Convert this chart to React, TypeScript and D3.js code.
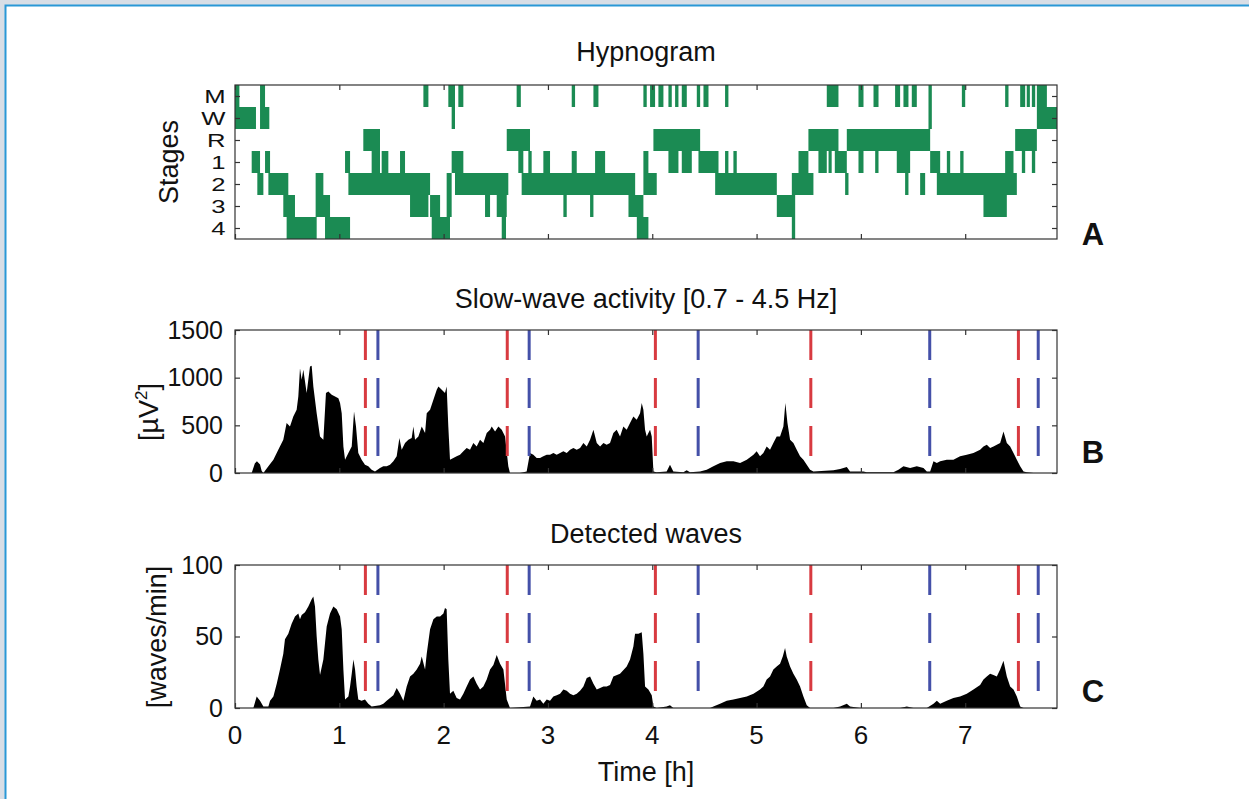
import React, { useEffect, useRef } from 'react'
import * as d3 from 'd3'

const stages = ['M', 'W', 'R', '1', '2', '3', '4']
const hourTicks = [0, 1, 2, 3, 4, 5, 6, 7]
const swaTicks = [0, 500, 1000, 1500]
const waveTicks = [0, 50, 100]
const redMarks = [1.25, 2.61, 4.03, 5.52, 7.51]
const blueMarks = [1.37, 2.82, 4.44, 6.66, 7.7]

// [stage, start h, end h]
const hypnogram: [string, number, number][] = [
  ['W', 0, 0.201], ['M', 0, 0.042], ['W', 0.24, 0.329], ['M', 0.24, 0.288],
  ['1', 0.16, 0.24], ['1', 0.288, 0.336], ['2', 0.214, 0.272], ['2', 0.32, 0.511],
  ['3', 0.463, 0.575], ['4', 0.495, 0.783], ['2', 0.773, 0.847], ['3', 0.773, 0.911],
  ['4', 0.863, 1.103], ['1', 1.055, 1.103], ['2', 1.087, 1.87], ['R', 1.23, 1.39],
  ['1', 1.31, 1.39], ['1', 1.406, 1.47], ['1', 1.582, 1.63], ['3', 1.678, 1.854],
  ['M', 1.806, 1.854], ['3', 1.87, 1.966], ['4', 1.886, 2.061], ['3', 2.029, 2.077],
  ['2', 2.029, 2.077], ['M', 2.045, 2.109], ['W', 2.077, 2.109], ['M', 2.141, 2.189],
  ['1', 2.077, 2.189], ['2', 2.109, 2.62], ['3', 2.397, 2.445], ['3', 2.509, 2.605],
  ['4', 2.557, 2.598], ['R', 2.605, 2.828], ['M', 2.7, 2.74], ['1', 2.716, 2.764],
  ['2', 2.748, 3.836], ['1', 2.812, 2.844], ['1', 2.956, 3.02], ['3', 3.148, 3.18],
  ['M', 3.228, 3.26], ['1', 3.228, 3.276], ['3', 3.404, 3.436], ['M', 3.436, 3.484],
  ['1', 3.452, 3.548], ['3', 3.772, 3.915], ['4', 3.852, 3.963], ['1', 3.915, 3.963],
  ['2', 3.915, 4.043], ['M', 3.915, 3.947], ['M', 3.979, 4.027], ['M', 4.059, 4.107],
  ['M', 4.155, 4.187], ['M', 4.219, 4.251], ['M', 4.283, 4.331], ['M', 4.427, 4.459],
  ['M', 4.491, 4.539], ['M', 4.698, 4.73], ['R', 4.011, 4.459], ['1', 4.155, 4.251],
  ['1', 4.283, 4.379], ['1', 4.443, 4.635], ['1', 4.698, 4.73], ['1', 4.778, 4.81],
  ['2', 4.603, 5.194], ['3', 5.194, 5.37], ['4', 5.338, 5.37], ['2', 5.338, 5.545],
  ['1', 5.402, 5.497], ['R', 5.497, 5.785], ['1', 5.593, 5.673], ['1', 5.69, 5.72],
  ['1', 5.75, 5.865], ['M', 5.673, 5.785], ['2', 5.849, 5.881], ['R', 5.865, 6.664],
  ['M', 5.977, 6.025], ['M', 6.121, 6.169], ['M', 6.328, 6.376], ['M', 6.408, 6.456],
  ['M', 6.488, 6.536], ['1', 5.977, 6.025], ['1', 6.137, 6.169], ['1', 6.344, 6.472],
  ['2', 6.424, 6.456], ['2', 6.568, 6.616], ['M', 6.648, 6.68], ['W', 6.648, 6.68],
  ['1', 6.664, 6.76], ['2', 6.728, 7.495], ['1', 6.824, 6.856], ['1', 6.952, 6.984],
  ['M', 6.968, 7.0], ['3', 7.175, 7.399], ['M', 7.383, 7.415], ['1', 7.383, 7.463],
  ['R', 7.479, 7.687], ['M', 7.527, 7.575], ['M', 7.59, 7.62], ['M', 7.639, 7.671],
  ['1', 7.543, 7.575], ['1', 7.639, 7.671], ['W', 7.687, 7.88], ['M', 7.687, 7.783]
]

// slow-wave activity [h, µV²]
const swa: [number, number][] = [
  [0, 0], [0.16, 0], [0.19, 100], [0.21, 122], [0.24, 90], [0.256, 20], [0.272, 0], [0.32, 70],
  [0.368, 140], [0.415, 244], [0.463, 349], [0.495, 524], [0.527, 489], [0.559, 593], [0.591, 663],
  [0.607, 803], [0.623, 1099], [0.639, 977], [0.655, 1082], [0.687, 838], [0.719, 1117], [0.735, 1124],
  [0.751, 907], [0.783, 628], [0.815, 384], [0.847, 349], [0.872, 838], [0.895, 855], [0.927, 820],
  [0.959, 803], [0.991, 785], [1.007, 733], [1.023, 628], [1.039, 279], [1.055, 140], [1.087, 209],
  [1.119, 279], [1.141, 646], [1.16, 489], [1.182, 209], [1.214, 140], [1.246, 87], [1.278, 70],
  [1.31, 35], [1.342, 17], [1.39, 52], [1.422, 70], [1.454, 70], [1.486, 87], [1.518, 122],
  [1.55, 175], [1.576, 366], [1.598, 244], [1.63, 314], [1.662, 349], [1.694, 366], [1.71, 489],
  [1.726, 349], [1.758, 384], [1.79, 489], [1.822, 419], [1.838, 628], [1.87, 663], [1.902, 768],
  [1.934, 873], [1.95, 907], [1.982, 873], [2.013, 838], [2.029, 907], [2.045, 489], [2.061, 140],
  [2.093, 157], [2.125, 175], [2.157, 192], [2.189, 227], [2.221, 262], [2.253, 244], [2.285, 314],
  [2.317, 279], [2.349, 349], [2.381, 314], [2.413, 419], [2.445, 454], [2.461, 489], [2.493, 436],
  [2.525, 489], [2.557, 454], [2.589, 384], [2.62, 70], [2.636, 0], [2.732, 0], [2.796, 17],
  [2.828, 209], [2.86, 192], [2.892, 157], [2.924, 157], [2.956, 175], [2.988, 192], [3.02, 192],
  [3.052, 209], [3.084, 192], [3.116, 209], [3.148, 227], [3.18, 209], [3.212, 244], [3.244, 262],
  [3.276, 244], [3.308, 262], [3.34, 314], [3.372, 279], [3.404, 349], [3.436, 454], [3.468, 314],
  [3.5, 279], [3.532, 314], [3.563, 297], [3.595, 314], [3.627, 419], [3.659, 454], [3.691, 384],
  [3.723, 489], [3.755, 454], [3.787, 524], [3.819, 593], [3.851, 558], [3.883, 628], [3.899, 733],
  [3.915, 663], [3.931, 454], [3.947, 384], [3.963, 419], [3.979, 454], [3.995, 384], [4.011, 17],
  [4.042, 7], [4.138, 17], [4.17, 87], [4.202, 17], [4.298, 7], [4.33, 28], [4.362, 7], [4.458, 17],
  [4.522, 35], [4.586, 70], [4.65, 105], [4.714, 122], [4.778, 122], [4.842, 105], [4.906, 140],
  [4.97, 192], [5.001, 227], [5.033, 175], [5.065, 209], [5.097, 279], [5.129, 244], [5.161, 314],
  [5.193, 384], [5.225, 384], [5.257, 489], [5.276, 733], [5.296, 524], [5.321, 349], [5.353, 314],
  [5.385, 244], [5.417, 175], [5.449, 140], [5.481, 87], [5.513, 35], [5.545, 17], [5.737, 28],
  [5.801, 42], [5.865, 63], [5.896, 17], [6.024, 17], [6.056, 7], [6.312, 7], [6.36, 35], [6.408, 70],
  [6.472, 52], [6.536, 70], [6.6, 52], [6.632, 17], [6.664, 17], [6.696, 122], [6.728, 105],
  [6.76, 122], [6.823, 140], [6.887, 140], [6.951, 175], [7.015, 192], [7.079, 209], [7.143, 244],
  [7.175, 279], [7.207, 297], [7.239, 262], [7.271, 279], [7.303, 297], [7.335, 314], [7.367, 436],
  [7.399, 314], [7.431, 279], [7.463, 209], [7.495, 140], [7.527, 70], [7.559, 17], [7.591, 7],
  [7.655, 0], [7.88, 0]
]

// detected waves [h, waves/min]
const waves: [number, number][] = [
  [0, 0], [0.176, 0], [0.208, 8], [0.24, 5], [0.272, 1], [0.32, 1], [0.336, 5], [0.368, 8], [0.4, 17],
  [0.431, 27], [0.463, 38], [0.479, 48], [0.511, 52], [0.543, 59], [0.575, 64], [0.607, 66], [0.623, 62],
  [0.639, 65], [0.671, 67], [0.703, 71], [0.735, 76], [0.751, 78], [0.767, 71], [0.783, 50], [0.799, 34],
  [0.815, 23], [0.847, 34], [0.879, 57], [0.911, 66], [0.943, 71], [0.975, 69], [1.007, 64], [1.023, 55],
  [1.039, 27], [1.055, 6], [1.087, 8], [1.103, 15], [1.119, 24], [1.135, 34], [1.151, 27], [1.166, 15],
  [1.182, 6], [1.214, 5], [1.246, 6], [1.278, 3], [1.31, 1], [1.39, 2], [1.422, 3], [1.454, 5],
  [1.486, 7], [1.518, 9], [1.55, 14], [1.582, 10], [1.614, 5], [1.646, 15], [1.678, 22], [1.71, 24],
  [1.742, 27], [1.774, 31], [1.79, 36], [1.822, 27], [1.838, 38], [1.87, 55], [1.902, 62], [1.934, 64],
  [1.966, 64], [1.998, 66], [2.013, 70], [2.029, 69], [2.045, 34], [2.061, 10], [2.093, 12], [2.125, 7],
  [2.157, 6], [2.189, 10], [2.221, 15], [2.253, 20], [2.285, 22], [2.317, 17], [2.349, 13], [2.381, 15],
  [2.413, 20], [2.445, 27], [2.477, 30], [2.509, 37], [2.541, 31], [2.573, 27], [2.605, 6], [2.636, 0],
  [2.828, 1], [2.86, 8], [2.892, 5], [2.924, 6], [2.956, 3], [2.988, 6], [3.02, 5], [3.052, 8],
  [3.084, 9], [3.116, 10], [3.148, 13], [3.18, 12], [3.212, 10], [3.244, 9], [3.276, 10], [3.308, 12],
  [3.34, 15], [3.372, 21], [3.404, 22], [3.436, 17], [3.468, 13], [3.5, 14], [3.532, 15], [3.563, 15],
  [3.595, 16], [3.627, 22], [3.691, 24], [3.755, 29], [3.787, 34], [3.819, 43], [3.835, 52], [3.867, 52],
  [3.899, 53], [3.915, 38], [3.931, 15], [3.963, 13], [3.995, 9], [4.011, 1], [4.042, 0], [4.138, 1],
  [4.17, 2], [4.202, 0], [4.554, 0], [4.586, 1], [4.65, 3], [4.714, 5], [4.778, 6], [4.842, 7],
  [4.906, 8], [4.97, 10], [5.033, 13], [5.065, 15], [5.097, 20], [5.129, 22], [5.161, 27], [5.193, 29],
  [5.225, 31], [5.251, 36], [5.273, 42], [5.289, 36], [5.321, 29], [5.353, 24], [5.385, 20], [5.417, 15],
  [5.449, 8], [5.481, 2], [5.513, 0], [5.737, 0], [5.801, 1], [5.865, 3], [5.896, 1], [5.992, 0],
  [6.376, 0], [6.44, 1], [6.504, 0], [6.632, 0], [6.696, 3], [6.728, 5], [6.76, 3], [6.823, 5],
  [6.887, 7], [6.951, 8], [7.015, 10], [7.079, 13], [7.143, 16], [7.175, 20], [7.207, 22], [7.239, 24],
  [7.271, 23], [7.303, 22], [7.335, 27], [7.367, 33], [7.399, 22], [7.431, 15], [7.463, 13], [7.495, 8],
  [7.527, 1], [7.559, 0], [7.88, 0]
]

const FONT = '"Liberation Sans", Arial, Helvetica, sans-serif'
const GREEN = '#1b8b53'
const RED = '#d83a40'
const BLUE = '#4450a8'

export default function App() {
  const ref = useRef<SVGSVGElement>(null)

  useEffect(() => {
    const svg = d3.select(ref.current)
    svg.selectAll('*').remove()

    // page frame
    svg.append('rect').attr('width', 1249).attr('height', 799).attr('fill', '#d8dee6')
    svg.append('rect').attr('x', 6).attr('y', 6).attr('width', 1243).attr('height', 793).attr('fill', '#fff')
    svg.append('path').attr('d', 'M5.5,799V5.5H1249').attr('fill', 'none').attr('stroke', '#2a98d6').attr('stroke-width', 2)

    const left = 235, right = 1057
    const x = d3.scaleLinear().domain([0, 7.88]).range([left, right])

    const frame = (g, y, top, bottom, yTicks, yFmt) => {
      g.append('rect').attr('x', left).attr('y', top).attr('width', right - left).attr('height', bottom - top)
        .attr('fill', 'none').attr('stroke', '#333').attr('stroke-width', 1.2)
      const style = a => {
        a.select('.domain').remove()
        a.selectAll('line').attr('stroke', '#333').attr('stroke-width', 1.2)
        a.selectAll('text').attr('font-family', FONT).attr('font-size', 25).attr('fill', '#111')
      }
      g.append('g').attr('transform', `translate(0,${bottom})`)
        .call(d3.axisBottom(x).tickValues(hourTicks).tickSize(-5).tickFormat(() => '')).call(style)
      g.append('g').attr('transform', `translate(0,${top})`)
        .call(d3.axisTop(x).tickValues(hourTicks).tickSize(-5).tickFormat(() => '')).call(style)
      g.append('g').attr('class', 'yleft').attr('transform', `translate(${left},0)`)
        .call(d3.axisLeft(y).tickValues(yTicks).tickSize(-5).tickPadding(12).tickFormat(yFmt)).call(style)
      g.append('g').attr('transform', `translate(${right},0)`)
        .call(d3.axisRight(y).tickValues(yTicks).tickSize(-5).tickFormat(() => '')).call(style)
    }

    const title = (text, yPos) => svg.append('text').attr('x', (left + right) / 2).attr('y', yPos)
      .attr('text-anchor', 'middle').attr('font-family', FONT).attr('font-size', 27).attr('fill', '#111').text(text)
    const letter = (text, yPos) => svg.append('text').attr('x', 1093).attr('y', yPos)
      .attr('text-anchor', 'middle').attr('font-family', FONT).attr('font-size', 31).attr('font-weight', 'bold').attr('fill', '#111').text(text)
    const yLabel = (text, cx, cy) => svg.append('text').attr('transform', `translate(${cx},${cy}) rotate(-90)`)
      .attr('text-anchor', 'middle').attr('font-family', FONT).attr('font-size', 27).attr('fill', '#111').text(text)

    const marks = (g, top, bottom) => {
      const all = [...redMarks.map(h => ({ h, c: RED })), ...blueMarks.map(h => ({ h, c: BLUE }))]
      g.selectAll('line.mark').data(all).join('line').attr('class', 'mark')
        .attr('x1', d => x(d.h)).attr('x2', d => x(d.h)).attr('y1', top).attr('y2', bottom)
        .attr('stroke', d => d.c).attr('stroke-width', 3).attr('stroke-dasharray', '30,18')
    }

    // A: hypnogram
    const gA = svg.append('g')
    const yA = d3.scalePoint().domain(stages).range([85, 239]).padding(0.5)
    const step = yA.step()
    gA.selectAll('rect.ep').data(hypnogram).join('rect').attr('class', 'ep')
      .attr('x', d => x(d[1])).attr('width', d => Math.max(1.5, x(d[2]) - x(d[1])))
      .attr('y', d => yA(d[0]) - step / 2).attr('height', step).attr('fill', GREEN)
    frame(gA, yA, 85, 239, stages, d => d)
    // stage letters are drawn wide and short, as in the original
    gA.selectAll('g.yleft text').attr('font-size', 19).attr('dy', '0.36em').attr('x', -7)
      .attr('transform', 'scale(1.35,1)')
    title('Hypnogram', 61)
    yLabel('Stages', 178, 162)
    letter('A', 245)

    // B: slow-wave activity
    const gB = svg.append('g')
    const yB = d3.scaleLinear().domain([0, 1500]).range([473, 330])
    gB.append('path').datum(swa).attr('fill', '#000')
      .attr('d', d3.area().x(d => x(d[0])).y0(yB(0)).y1(d => yB(d[1])))
    marks(gB, 330, 473)
    frame(gB, yB, 330, 473, swaTicks, d3.format('d'))
    title('Slow-wave activity [0.7 - 4.5 Hz]', 308)
    const lb = yLabel('[µV', 158, 412)
    lb.append('tspan').attr('font-size', 17).attr('dy', -11).text('2')
    lb.append('tspan').attr('dy', 11).text(']')
    letter('B', 463)

    // C: detected waves
    const gC = svg.append('g')
    const yC = d3.scaleLinear().domain([0, 100]).range([708, 565])
    gC.append('path').datum(waves).attr('fill', '#000')
      .attr('d', d3.area().x(d => x(d[0])).y0(yC(0)).y1(d => yC(d[1])))
    marks(gC, 565, 708)
    frame(gC, yC, 565, 708, waveTicks, d3.format('d'))
    gC.append('g').selectAll('text').data(hourTicks).join('text')
      .attr('x', d => x(d)).attr('y', 744).attr('text-anchor', 'middle')
      .attr('font-family', FONT).attr('font-size', 26).attr('fill', '#111').text(d => d)
    title('Detected waves', 543)
    yLabel('[waves/min]', 166, 637)
    letter('C', 702)
    svg.append('text').attr('x', (left + right) / 2).attr('y', 781).attr('text-anchor', 'middle')
      .attr('font-family', FONT).attr('font-size', 27).attr('fill', '#111').text('Time [h]')
  }, [])

  return <svg ref={ref} width={1249} height={799} style={{ position: 'absolute', left: 0, top: 0 }} />
}
